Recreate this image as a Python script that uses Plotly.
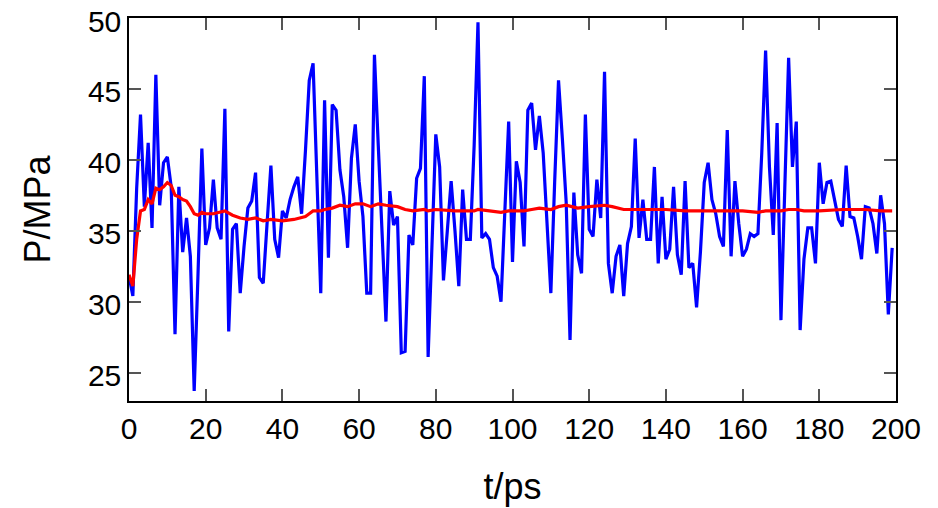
import plotly.graph_objects as go

t_ps = list(range(200))
pressure = [
    31.8, 30.4, 38.0, 43.2, 36.7, 41.2, 35.2, 46.0, 36.8, 39.8,
    40.2, 38.1, 27.7, 38.1, 33.5, 35.9, 33.2, 23.7, 32.0, 40.8,
    34.0, 35.2, 38.6, 35.2, 34.4, 43.6, 27.9, 35.1, 35.5, 30.6,
    33.9, 36.6, 37.1, 39.1, 31.7, 31.3, 35.5, 39.6, 34.4, 33.1,
    36.4, 35.9, 37.2, 38.1, 38.8, 36.2, 40.6, 45.6, 46.8, 38.7,
    30.6, 44.2, 33.1, 43.9, 43.5, 39.3, 37.4, 33.8, 40.1, 42.5,
    38.5, 36.0, 30.6, 30.6, 47.4, 41.0, 35.0, 28.6, 37.8, 35.4,
    36.0, 26.4, 26.5, 34.7, 34.0, 38.7, 39.4, 45.9, 26.1, 33.7,
    41.8, 39.5, 31.5, 35.0, 38.5, 35.0, 31.1, 37.9, 34.4, 34.4,
    41.0, 49.7, 34.5, 34.8, 34.4, 32.4, 31.8, 30.0, 36.4, 42.7,
    32.8, 39.9, 38.4, 33.9, 43.5, 44.0, 40.7, 43.1, 40.5, 35.5,
    30.6, 38.5, 45.6, 41.5, 37.0, 27.3, 37.7, 33.3, 32.0, 43.2,
    35.1, 34.6, 38.6, 35.9, 46.2, 32.7, 30.6, 33.2, 34.0, 30.4,
    34.1, 35.3, 41.5, 34.5, 37.2, 34.4, 34.4, 39.5, 32.7, 37.4,
    33.0, 33.7, 38.1, 33.3, 31.9, 38.5, 32.4, 32.7, 29.6, 33.5,
    38.4, 39.8, 37.2, 36.2, 34.6, 33.9, 42.1, 33.2, 38.5, 35.5,
    33.2, 33.7, 34.8, 34.6, 34.8, 40.5, 47.7, 39.5, 34.7, 42.6,
    28.7, 38.0, 47.2, 39.5, 42.7, 28.0, 33.0, 35.2, 35.2, 32.7,
    39.8, 36.9, 38.4, 38.5, 37.0, 35.8, 35.3, 39.6, 36.0, 35.9,
    34.6, 33.0, 36.7, 36.6, 35.5, 33.4, 37.5, 35.5, 29.1, 33.8,
]

avg_t = [0, 1, 2, 3, 4, 5, 6, 7, 8, 9, 10, 11, 12, 13, 14, 15, 16, 17, 18, 19,
         20, 22, 25, 27, 29, 31, 33, 35, 37, 40, 43, 45, 46, 47, 48, 50, 51,
         53, 55, 57, 59, 61, 63, 64, 65, 67, 70, 72, 74, 77, 78, 80, 85, 90,
         91, 94, 97, 99, 103, 105, 107, 110, 112, 114, 117, 120, 124, 126,
         129, 135, 140, 145, 150, 156, 160, 164, 166, 170, 172, 174, 176,
         180, 186, 192, 196, 199]
avg_p = [31.9, 31.1, 34.4, 36.4, 36.5, 37.2, 36.9, 38.0, 37.9, 38.1, 38.4,
         38.2, 37.5, 37.4, 37.2, 37.1, 36.7, 36.2, 36.1, 36.3,
         36.2, 36.2, 36.4, 36.1, 35.9, 35.8, 35.9, 35.7, 35.8, 35.7, 35.8,
         35.9, 36.0, 36.2, 36.4, 36.4, 36.5, 36.6, 36.8, 36.7, 36.9, 36.9,
         36.7, 36.8, 36.9, 36.8, 36.7, 36.5, 36.4, 36.5, 36.4, 36.5, 36.4,
         36.4, 36.5, 36.4, 36.3, 36.4, 36.4, 36.5, 36.6, 36.5, 36.7, 36.8,
         36.6, 36.7, 36.8, 36.7, 36.5, 36.5, 36.5, 36.4, 36.4, 36.4, 36.4,
         36.3, 36.4, 36.4, 36.5, 36.5, 36.4, 36.4, 36.5, 36.5, 36.4, 36.4]

x_ticks = [0, 20, 40, 60, 80, 100, 120, 140, 160, 180, 200]
y_ticks = [25, 30, 35, 40, 45, 50]

fig = go.Figure()
fig.add_trace(go.Scatter(x=t_ps, y=pressure, mode="lines",
                         line=dict(color="#0000ff", width=3.2), showlegend=False))
fig.add_trace(go.Scatter(x=avg_t, y=avg_p, mode="lines",
                         line=dict(color="#ff0000", width=3.2), showlegend=False))

font = dict(family="Liberation Sans, Arial, sans-serif", size=30, color="black")
fig.update_layout(
    width=938, height=508,
    margin=dict(l=121, r=50, t=10, b=115),
    paper_bgcolor="white", plot_bgcolor="white",
    font=font,
)
fig.update_xaxes(
    range=[0, 200], tickvals=x_ticks, ticks="inside", ticklen=12,
    tickcolor="#555555", tickwidth=1.5, showline=True, linecolor="black",
    linewidth=1.5, mirror="ticks", showgrid=False, zeroline=False,
    automargin=False, ticklabeloverflow="allow",
    title=dict(text="t/ps", standoff=30), tickfont=font,
)
fig.update_yaxes(
    range=[23, 50], tickvals=y_ticks, ticks="inside", ticklen=12,
    tickcolor="#555555", tickwidth=1.5, showline=True, linecolor="black",
    linewidth=1.5, mirror="ticks", showgrid=False, zeroline=False,
    automargin=False, ticklabeloverflow="allow", ticklabelshift=3,
    title=dict(text="P/MPa", standoff=26), tickfont=font,
)
fig.write_html("out.html")
